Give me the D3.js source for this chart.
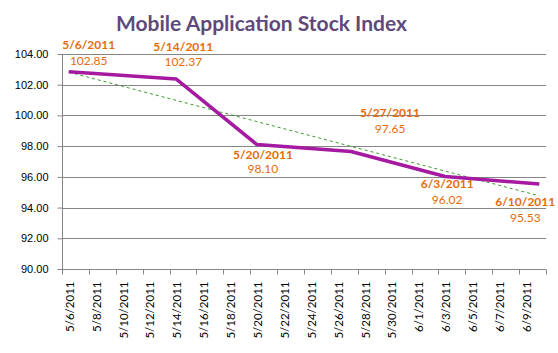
<!DOCTYPE html>
<html>
<head>
<meta charset="utf-8">
<script src="https://d3js.org/d3.v7.min.js"></script>
<style>
  body { margin: 0; background: #fff; }
  svg { display: block; font-family: Lato, "Open Sans", sans-serif; }
  .grid line { stroke: #868686; stroke-width: 1; }
  .axis path, .axis line { stroke: #868686; }
  .axis text { fill: #000; font-size: 11px; }
  .xlab text { font-size: 11.5px; }
</style>
</head>
<body>
<svg id="chart" width="558" height="353"></svg>
<script>
// data
const dates = ["5/6/2011", "5/14/2011", "5/20/2011", "5/27/2011", "6/3/2011", "6/10/2011"];
const values = [102.85, 102.37, 98.10, 97.65, 96.02, 95.53];
const yTicks = [90, 92, 94, 96, 98, 100, 102, 104];
const xTickLabels = ["5/6/2011", "5/8/2011", "5/10/2011", "5/12/2011", "5/14/2011", "5/16/2011",
  "5/18/2011", "5/20/2011", "5/22/2011", "5/24/2011", "5/26/2011", "5/28/2011", "5/30/2011",
  "6/1/2011", "6/3/2011", "6/5/2011", "6/7/2011", "6/9/2011"];

// label offsets [dx, dy date, dy value] from each point
const labelPos = [[20, -23, -7], [7, -28.5, -13], [6, 14.5, 28], [39, -35, -19], [2, 11, 27.5], [-14, 22, 37.5]];

const svg = d3.select("#chart");
const parse = d3.timeParse("%m/%d/%Y");
const day0 = parse(dates[0]);
const dayEnd = d3.timeDay.offset(parse(dates[dates.length - 1]), 1);

const x = d3.scaleTime().domain([day0, dayEnd]).range([62, 546]);
const y = d3.scaleLinear().domain([90, 104]).range([269, 54]);
const mid = d => d3.timeHour.offset(parse(d), 12);

// title
svg.append("text")
  .attr("x", 261.5).attr("y", 31)
  .attr("text-anchor", "middle")
  .style("font-size", "21px").style("font-weight", "bold")
  .style("fill", "#5F497A")
  .text("Mobile Application Stock Index");

// gridlines
svg.append("g").attr("class", "grid")
  .selectAll("line").data(yTicks.slice(1)).join("line")
  .attr("x1", 62).attr("x2", 546)
  .attr("y1", d => Math.round(y(d)) + 0.5).attr("y2", d => Math.round(y(d)) + 0.5);

// y axis
svg.append("g").attr("class", "axis")
  .attr("transform", "translate(62.5,0)")
  .call(d3.axisLeft(y).tickValues(yTicks).tickFormat(d3.format(".2f")).tickSize(5).tickPadding(9))
  .call(g => g.select(".domain").attr("d", `M0,${y(104)}V${y(90)}`));

// x axis
const xTicks = xTickLabels.map(parse);
const xg = svg.append("g").attr("class", "axis xlab")
  .attr("transform", "translate(0,269.5)");
xg.append("line").attr("x1", 62).attr("x2", 546).attr("y1", 0).attr("y2", 0);
xg.selectAll("line.tk").data(xTicks.concat([dayEnd])).join("line").attr("class", "tk")
  .attr("x1", d => Math.round(x(d)) + 0.5).attr("x2", d => Math.round(x(d)) + 0.5)
  .attr("y1", 0).attr("y2", 5);
xg.selectAll("text").data(xTickLabels).join("text")
  .attr("transform", d => `translate(${x(mid(d)) + 1},12) rotate(-90)`)
  .attr("text-anchor", "end").attr("dy", "0.35em")
  .text(d => d);

// trendline (least squares on day index)
const dx = dates.map(d => d3.timeDay.count(day0, parse(d)));
const mx = d3.mean(dx), my = d3.mean(values);
const slope = d3.sum(dx, (v, i) => (v - mx) * (values[i] - my)) / d3.sum(dx, v => (v - mx) ** 2);
const icpt = my - slope * mx;
const t0 = dx[0], t1 = dx[dx.length - 1];
svg.append("line")
  .attr("x1", x(mid(dates[0]))).attr("y1", y(icpt + slope * t0))
  .attr("x2", x(mid(dates[dates.length - 1]))).attr("y2", y(icpt + slope * t1))
  .style("stroke", "#3A9A2A").style("stroke-width", 1).style("stroke-dasharray", "3,3");

// main line
const line = d3.line().x((d, i) => x(mid(dates[i]))).y(d => y(d));
svg.append("path").datum(values)
  .attr("d", line)
  .style("fill", "none").style("stroke", "#A51AA0").style("stroke-width", 3.5)
  .style("stroke-linejoin", "round");

// labels
const lab = svg.append("g").style("fill", "#E46C0A").style("font-size", "12px").attr("text-anchor", "middle");
dates.forEach((d, i) => {
  const px = x(mid(d)), py = y(values[i]);
  lab.append("text").attr("x", px + labelPos[i][0]).attr("y", py + labelPos[i][1])
    .style("font-weight", "bold").text(d);
  lab.append("text").attr("x", px + labelPos[i][0]).attr("y", py + labelPos[i][2])
    .text(values[i].toFixed(2));
});
</script>
</body>
</html>
